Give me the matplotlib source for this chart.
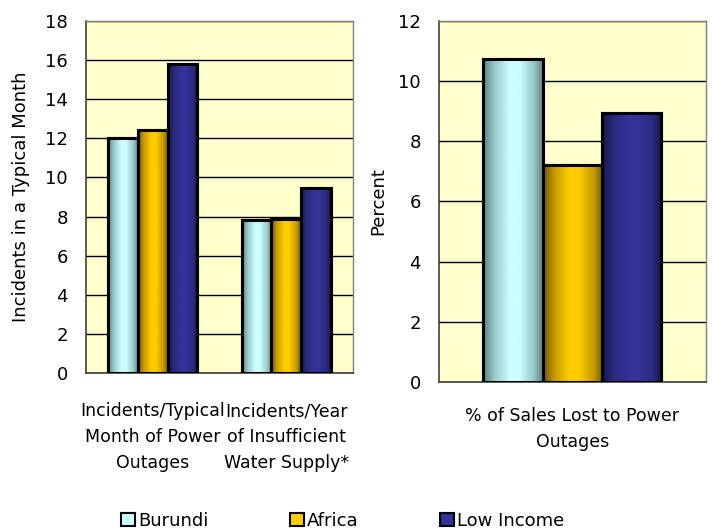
import numpy as np
import matplotlib
matplotlib.use("Agg")
import matplotlib.pyplot as plt
from matplotlib.colors import LinearSegmentedColormap
from matplotlib.patches import Patch

series = ["Burundi", "Africa", "Low Income"]
left_categories = ["Incidents/Typical\nMonth of Power\nOutages",
                   "Incidents/Year\nof Insufficient\nWater Supply*"]
left_values = {
    "Burundi": [12.0, 7.8],
    "Africa": [12.45, 7.9],
    "Low Income": [15.8, 9.45],
}
right_categories = ["% of Sales Lost to Power\nOutages"]
right_values = {
    "Burundi": [10.75],
    "Africa": [7.2],
    "Low Income": [8.95],
}
left_ticks = [0, 2, 4, 6, 8, 10, 12, 14, 16, 18]
right_ticks = [0, 2, 4, 6, 8, 10, 12]

# gradient stops across bar width
grad = {
    "Burundi": [(0, "#5a8080"), (0.2, "#9ccccc"), (0.45, "#ccffff"), (0.6, "#ccffff"),
                (0.85, "#99c8c8"), (1, "#5f8585")],
    "Africa": [(0, "#6e5500"), (0.2, "#c89e00"), (0.45, "#ffcc00"), (0.6, "#ffcc00"),
               (0.85, "#c49a00"), (1, "#735a00")],
    "Low Income": [(0, "#181848"), (0.2, "#2a2a80"), (0.45, "#333399"), (0.6, "#333399"),
                   (0.85, "#2a2a7e"), (1, "#181846")],
}
solid = {"Burundi": "#ccffff", "Africa": "#ffcc00", "Low Income": "#333399"}

plt.rcParams['font.family'] = ['DejaVu Sans']
fig = plt.figure(figsize=(7.13, 5.29), dpi=100)
ax1 = fig.add_axes([0.1206, 0.2949, 0.3745, 0.6654])
ax2 = fig.add_axes([0.6157, 0.2779, 0.374, 0.6824])

def draw(ax, cats, vals, ticks, ylabel):
    ax.set_facecolor("#ffffcc")
    n = len(series)
    w = 0.6667 / n
    x = np.arange(len(cats))
    for i, s in enumerate(series):
        bars = ax.bar(x + (i - 1) * w, vals[s], width=w, color=solid[s],
                      edgecolor="black", linewidth=2.2, zorder=3)
        cmap = LinearSegmentedColormap.from_list(s, grad[s])
        g = np.linspace(0, 1, 256).reshape(1, -1)
        for b in bars:
            bx, by = b.get_x(), b.get_y()
            bw, bh = b.get_width(), b.get_height()
            im = ax.imshow(g, cmap=cmap, aspect="auto",
                           extent=[bx, bx + bw, by, by + bh], zorder=3.5)
            im.set_clip_path(b)
            ax.bar(bx + bw / 2, bh, width=bw, bottom=by, fill=False,
                   edgecolor="black", linewidth=2.2, zorder=4)
    ax.set_xlim(-0.5, len(cats) - 0.5)
    ax.set_ylim(ticks[0], ticks[-1])
    ax.set_yticks(ticks)
    ax.set_xticks(x)
    ax.tick_params(axis="both", length=0)
    ax.tick_params(axis="y", pad=13, labelsize=13)
    ax.set_xticklabels(cats, fontsize=12.5, linespacing=1.55)
    ax.tick_params(axis="x", pad=21)
    ax.grid(axis="y", color="black", linewidth=1.0, zorder=1)
    ax.set_axisbelow(True)
    for side in ["top", "right"]:
        ax.spines[side].set_color("#808080")
        ax.spines[side].set_linewidth(1.0)
    for side in ["left", "bottom"]:
        ax.spines[side].set_color("#404040")
        ax.spines[side].set_linewidth(1.2)
    ax.set_ylabel(ylabel, fontsize=13)

draw(ax1, left_categories, left_values, left_ticks, "Incidents in a Typical Month")
draw(ax2, right_categories, right_values, right_ticks, "Percent")
ax1.yaxis.labelpad = 11
ax2.yaxis.labelpad = 8
ax2.tick_params(axis="x", pad=18)

handles = [Patch(facecolor=solid[s], edgecolor="black", linewidth=1.5) for s in series]
fig.legend(handles, series, loc="center", bbox_to_anchor=(0.481, 0.015),
           ncol=3, frameon=False, fontsize=13, columnspacing=4.5,
           handlelength=0.75, handleheight=0.75, handletextpad=0.2)

fig.savefig("out.png", dpi=100)
